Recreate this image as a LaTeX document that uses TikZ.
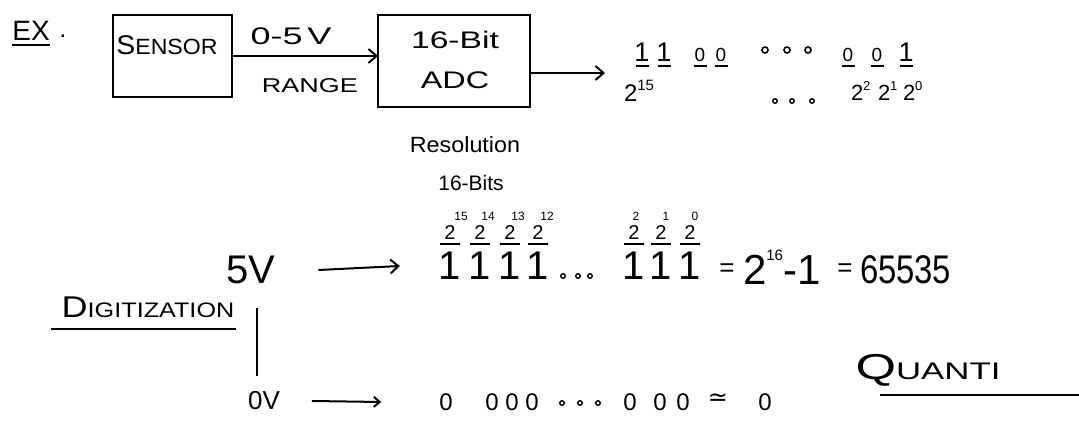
\documentclass[tikz,border=0pt]{standalone}
\usepackage{fontspec}
\setmainfont{Liberation Sans}
\newfontfamily\djv{DejaVu Sans}
\usetikzlibrary{arrows.meta}
\newcommand{\myhx}[2]{\scalebox{#1}[1]{#2}}
\newcommand{\hsz}[1]{\fontsize{#1}{#1}\selectfont}
\begin{document}
\begin{tikzpicture}[x=1pt,y=-1pt,line width=2pt,
  every node/.style={inner sep=0pt,outer sep=0pt,text=black},
  box/.style={draw,line width=2.2pt},
  arr/.style={-{Straight Barb[length=8pt,width=14pt]}},
  sarr/.style={-{Straight Barb[length=6pt,width=10pt]}},
  uline/.style={line width=2pt},
  ring/.style={draw,circle,minimum size=6pt,line width=1.6pt},
  sring/.style={draw,circle,minimum size=4.5pt,line width=1.4pt}]
\useasboundingbox (0,0) rectangle (1079,443);
\fill[white] (0,0) rectangle (1079,443);

% EX.
\node (ex) at (31,31) {\hsz{28}EX};
\node (exdot) at (63,36) {\hsz{24}.};
\draw[uline] ([yshift=-4pt]ex.south west) -- ([yshift=-4pt]ex.south east);

% sensor -> ADC
\node[box,minimum width=119,minimum height=82] (sensor) at (172.5,56) {};
\node (sensortxt) at (167,45) {\myhx{1.05}{{\hsz{27}S}{\hsz{22}ENSOR}}};
\node[box,minimum width=152,minimum height=92] (adc) at (454,61) {};
\node (adctop) at (455,40) {\myhx{1.4}{\hsz{24}16-Bit}};
\node (adcbot) at (455,80) {\myhx{1.35}{\hsz{24}ADC}};
\draw[arr] (sensor.east) -- (sensor.east -| adc.west);
\node (rng1) at (291,36) {\myhx{1.5}{\hsz{24}0-5\hspace{3pt}V}};
\node (rng2) at (310,86) {\myhx{1.35}{\hsz{20}RANGE}};

% output bits
\coordinate (bitsin) at (605,73);
\draw[arr] ([yshift=-12pt]adc.east) -- (bitsin);
\foreach \n/\x/\t/\f in {b1/642/1/27,b2/664/1/27,b3/700/0/19,b4/721/0/19,b5/848/0/19,b6/877/0/19,b7/906/1/27} {
  \node[anchor=base,font=\hsz{\f}] (\n) at (\x,62) {\t};
  \draw[uline] ([xshift=-6.5pt,yshift=-4pt]\n.base) -- ([xshift=6.5pt,yshift=-4pt]\n.base);
}
\foreach \n/\x in {r1/765,r2/787,r3/808} \node[ring] (\n) at (\x,50) {};
\foreach \n/\x in {s1/775,s2/792,s3/812} \node[sring] (\n) at (\x,101) {};
\node[anchor=base west,font=\hsz{24}] (p15) at (624,102) {2\raisebox{11pt}{\hsz{15}15}};
\node[anchor=base west,font=\hsz{22}] (p2) at (851,101) {2\raisebox{10pt}{\hsz{13}2}};
\node[anchor=base west,font=\hsz{22}] (p1) at (878,101) {2\raisebox{10pt}{\hsz{13}1}};
\node[anchor=base west,font=\hsz{22}] (p0) at (903,101) {2\raisebox{10pt}{\hsz{13}0}};

% resolution
\node (res) at (465,145) {\myhx{1.06}{\hsz{22}Resolution}};
\node (bits16) at (471,183) {\hsz{21}16-Bits};

% 5V row
\node (v5) at (251,270) {\hsz{40}5V};
\foreach \n/\x/\e/\d in {c15/450/15/11,c14/480/14/8,c13/510/13/8,c12/538/12/9,c2/634/2/2,c1/661/1/5,c0/690/0/5} {
  \node[font=\hsz{20}] (\n t) at (\x,233) {2};
  \node[font=\hsz{12}] (\n e) at (\x+\d,216) {\e};
  \draw[uline] ([xshift=-10pt,yshift=-4pt]\n t.south) -- ([xshift=10pt,yshift=-4pt]\n t.south);
  \node[font=\hsz{40}] (\n o) at (\x,266) {1};
}
\draw[arr] ([xshift=43pt]v5.east) -- ([xshift=-39pt]c15o.west);
\foreach \n/\x in {m1/563,m2/578,m3/590} \node[sring] (\n) at (\x,276) {};
\node[font=\hsz{26}] (eq1) at (727,270) {=};
\node[anchor=base west,font=\hsz{42}] (pow) at (743,285) {2\raisebox{24pt}{\hsz{15}16}-1};
\node[font=\hsz{26}] (eq2) at (845,270) {=};
\node[anchor=base west,font=\hsz{40}] (num) at (860,284) {\myhx{0.82}{65535}};

% digitization
\node (digi) at (148,307) {\myhx{1.2}{{\hsz{30}D}{\hsz{21}IGITIZATION}}};
\draw[uline] ([xshift=-11pt,yshift=-12pt]digi.south west) -- ([xshift=2pt,yshift=-12pt]digi.south east);
\coordinate (vtop) at (257,308);
\coordinate (vbot) at (257,376);
\draw[line width=2.4pt] (vtop) -- (vbot);

% 0V row
\node (v0) at (264,401) {\hsz{26}0V};
\foreach \n/\x in {z1/446,z2/492,z3/512,z4/532,z5/630,z6/660,z7/683} \node[font=\hsz{24}] (\n) at (\x,402) {0};
\foreach \n/\x in {n1/562,n2/580,n3/598} \node[sring] (\n) at (\x,403) {};
\node[font=\djv\hsz{24}] (approx) at (718,400) {≃};
\node[font=\hsz{24}] (zres) at (765,402) {0};
\draw[sarr] ([xshift=32pt]v0.east) -- ([xshift=-58pt]z1.west);

% quantization
\node (quanti) at (928,370) {\myhx{1.45}{{\hsz{36}Q}{\hsz{24}UANTI}}};
\draw[uline] (880,395) -- (1079,395);
\end{tikzpicture}
\end{document}
